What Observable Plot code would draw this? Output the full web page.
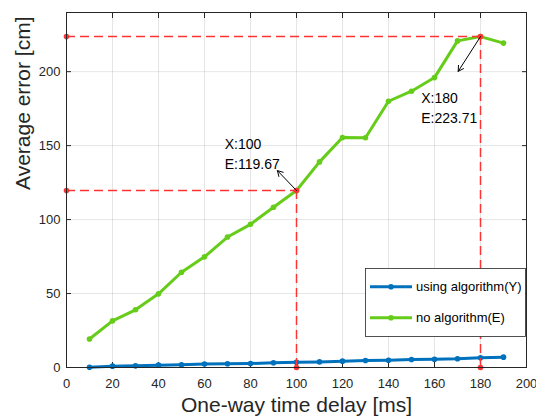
<!DOCTYPE html>
<html>
<head>
<meta charset="utf-8">
<script src="https://cdn.jsdelivr.net/npm/d3@7"></script>
<script src="https://cdn.jsdelivr.net/npm/@observablehq/plot@0.6"></script>
<style>
  html, body { margin: 0; padding: 0; background: #fff; }
</style>
</head>
<body>
<div id="chart"></div>
<script>
// One-way time delay (ms)
const delays = [10, 20, 30, 40, 50, 60, 70, 80, 90, 100, 110, 120, 130, 140, 150, 160, 170, 180, 190];
// Average error with the compensation algorithm (cm)
const withAlgorithm = [0.2, 0.9, 1.1, 1.6, 1.8, 2.3, 2.5, 2.7, 3.2, 3.6, 3.8, 4.3, 4.7, 4.9, 5.4, 5.6, 5.9, 6.6, 7.0];
// Average error without the algorithm (cm)
const noAlgorithm = [19.3, 31.5, 39.0, 49.8, 64.4, 74.8, 88.2, 96.8, 108.3, 119.67, 139.0, 155.5, 155.3, 180.0, 186.8, 196.0, 220.8, 223.71, 219.3];

const seriesNames = ["using algorithm(Y)", "no algorithm(E)"];
const seriesColors = ["#0072bd", "#66cc1a"];

const xTicks = [0, 20, 40, 60, 80, 100, 120, 140, 160, 180, 200];
const yTicks = [0, 50, 100, 150, 200];

// Data tips: marked point, arrow tip and text anchor (data units)
const tipX = [100, 180];
const tipArrowX = [91.7, 170.3];
const tipArrowY = [133.1, 200.2];
const tipTextX = [68.8, 154.2];
const tipTextY = [145.2, 176.3];

const xLabel = "One-way time delay [ms]";
const yLabel = "Average error [cm]";

const rows = (ys, name) => delays.map((d, i) => ({x: d, y: ys[i], series: name}));
const blueRows = rows(withAlgorithm, seriesNames[0]);
const greenRows = rows(noAlgorithm, seriesNames[1]);

const tips = tipX.map((x, i) => {
  const y = noAlgorithm[delays.indexOf(x)];
  return {x, y, ax: tipArrowX[i], ay: tipArrowY[i], tx: tipTextX[i], ty: tipTextY[i],
          label: `X:${x}\nE:${y.toFixed(2)}`};
});
const tipDots = tips.flatMap(t => [{x: 0, y: t.y}, {x: t.x, y: 0}, {x: t.x, y: t.y}]);

const red = "#ff3333";
const ink = "#262626";

const chart = Plot.plot({
  width: 536,
  height: 418,
  marginLeft: 66,
  marginRight: 10,
  marginTop: 12,
  marginBottom: 51,
  style: {fontFamily: "'Liberation Sans', Arial, Helvetica, sans-serif", fontSize: "13px", color: ink, background: "#fff"},
  x: {domain: [0, 200]},
  y: {domain: [0, 240]},
  marks: [
    Plot.gridX(xTicks.slice(1, -1), {stroke: "#000", strokeOpacity: 0.1}),
    Plot.gridY(yTicks.slice(1), {stroke: "#000", strokeOpacity: 0.1}),
    // tick labels
    Plot.axisX(xTicks, {anchor: "bottom", tickSize: 0, tickPadding: 11, fontSize: 13, label: null}),
    Plot.axisY(yTicks, {anchor: "left", tickSize: 0, tickPadding: 6, fontSize: 13, label: null}),
    // inward ticks on all four sides
    Plot.axisX(xTicks, {anchor: "bottom", tickSize: 5, dy: -5, fill: "none", label: null}),
    Plot.axisX(xTicks, {anchor: "top", tickSize: 5, dy: 5, fill: "none", label: null}),
    Plot.axisY(yTicks, {anchor: "left", tickSize: 5, dx: 5, fill: "none", label: null}),
    Plot.axisY(yTicks, {anchor: "right", tickSize: 5, dx: -5, fill: "none", label: null}),
    // series
    Plot.line(blueRows, {x: "x", y: "y", stroke: seriesColors[0], strokeWidth: 3}),
    Plot.dot(blueRows, {x: "x", y: "y", r: 2.8, fill: seriesColors[0]}),
    Plot.line(greenRows, {x: "x", y: "y", stroke: seriesColors[1], strokeWidth: 3}),
    Plot.dot(greenRows, {x: "x", y: "y", r: 2.8, fill: seriesColors[1]}),
    // dashed guides to the marked points
    Plot.ruleY(tips, {y: "y", x1: 0, x2: "x", stroke: red, strokeWidth: 1.5, strokeDasharray: "9,5"}),
    Plot.ruleX(tips, {x: "x", y1: 0, y2: "y", stroke: red, strokeWidth: 1.5, strokeDasharray: "9,5"}),
    Plot.dot(tipDots, {x: "x", y: "y", r: 2.8, fill: red}),
    // data tip arrows and labels
    Plot.arrow(tips, {x1: "x", y1: "y", x2: "ax", y2: "ay", stroke: "#000", strokeWidth: 1, headLength: 9}),
    Plot.text(tips, {x: "tx", y: "ty", text: "label", textAnchor: "start", lineAnchor: "middle",
                     lineHeight: 1.43, fontSize: 14, fill: "#000"}),
    // axis titles
    Plot.text([xLabel], {frameAnchor: "bottom", dy: 38, fontSize: 21, fill: ink, lineAnchor: "middle"}),
    Plot.text([yLabel], {frameAnchor: "left", dx: -43, rotate: -90, fontSize: 21, fill: ink, lineAnchor: "middle"}),
    Plot.frame({stroke: ink, strokeWidth: 1})
  ]
});

// Legend box in the lower right of the axes
const legend = {left: 365.5, top: 268.5, right: 525.5, bottom: 336.5, rowY: [286.7, 317.7], lineX1: 370, lineX2: 412, textX: 416};
const svg = d3.select(chart);
const g = svg.append("g").attr("class", "legend").attr("text-anchor", "start");
g.append("rect")
  .attr("x", legend.left).attr("y", legend.top)
  .attr("width", legend.right - legend.left).attr("height", legend.bottom - legend.top)
  .attr("fill", "#fff").attr("stroke", ink).attr("stroke-width", 0.8);
seriesNames.forEach((name, i) => {
  const y = legend.rowY[i];
  g.append("line")
    .attr("x1", legend.lineX1).attr("x2", legend.lineX2).attr("y1", y).attr("y2", y)
    .attr("stroke", seriesColors[i]).attr("stroke-width", 3);
  g.append("circle")
    .attr("cx", (legend.lineX1 + legend.lineX2) / 2).attr("cy", y).attr("r", 2.8)
    .attr("fill", seriesColors[i]);
  g.append("text")
    .attr("x", legend.textX).attr("y", y).attr("dy", "0.35em")
    .attr("text-anchor", "start")
    .attr("font-size", 13).attr("fill", "#000")
    .text(name);
});

document.getElementById("chart").appendChild(chart);
</script>
</body>
</html>
